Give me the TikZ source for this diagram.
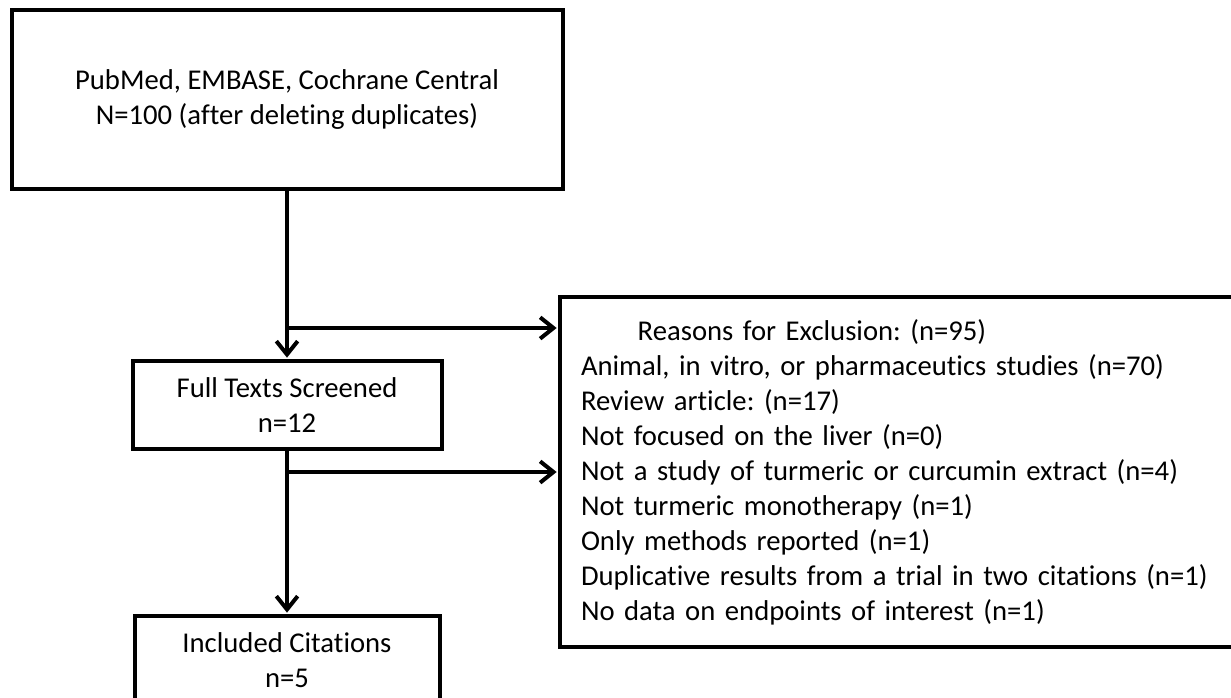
\documentclass[tikz,border=0pt]{standalone}
\usepackage{fontspec}
\setmainfont{Carlito}[Ligatures=NoCommon]
\usetikzlibrary{arrows.meta,positioning}
\frenchspacing

\begin{document}
\begin{tikzpicture}[
    x = 0.75pt, y = -0.75pt, % one unit is one pixel, y runs downwards
    > = {Straight Barb[length=10pt,width=16pt]}, % arrow head style
    shorten > = 1pt, % don't touch arrow head to node
    node distance = 126pt, % distance between boxes
    line width = 3pt % line style
    ]

    \tikzset{box/.style={
    draw = black,
    line width = 3pt,
    fill = white,
    align = center,
    inner sep = 0pt,
    font = \fontsize{21.5}{26.25}\selectfont
    }}
    \useasboundingbox (0,0) rectangle (1231,697);

    \node[box,minimum width=413.25pt,minimum height=134.25pt] (db) at (287,99.5)
        {PubMed, EMBASE, Cochrane Central\\N=100 (after deleting duplicates)};
    \node[box,minimum width=231.75pt,minimum height=66pt] (ft) [below=of db]
        {Full Texts Screened\\n=12};
    \node[box,minimum width=228.75pt,minimum height=66pt] (inc) [below=122.25pt of ft]
        {Included Citations\\n=5};
    \node[box,anchor=north west,minimum height=262.5pt,inner xsep=15.75pt,
        text width=483.75pt,align=left] (excl) at (558,295)
        {\makebox[346.5pt]{Reasons for Exclusion: (n=95)}\\
        Animal, in vitro, or pharmaceutics studies (n=70)\\
        Review article: (n=17)\\
        Not focused on the liver (n=0)\\
        Not a study of turmeric or curcumin extract (n=4)\\
        Not turmeric monotherapy (n=1)\\
        Only methods reported (n=1)\\
        Duplicative results from a trial in two citations (n=1)\\
        No data on endpoints of interest (n=1)};

    \coordinate (split1) at (287,328);
    \coordinate (split2) at (287,472);

    \draw[->] (db) -- (ft);
    \draw[->] (ft) -- (inc);
    \draw[->] (split1) -- (split1 -| excl.west);
    \draw[->] (split2) -- (split2 -| excl.west);
\end{tikzpicture}
\end{document}
